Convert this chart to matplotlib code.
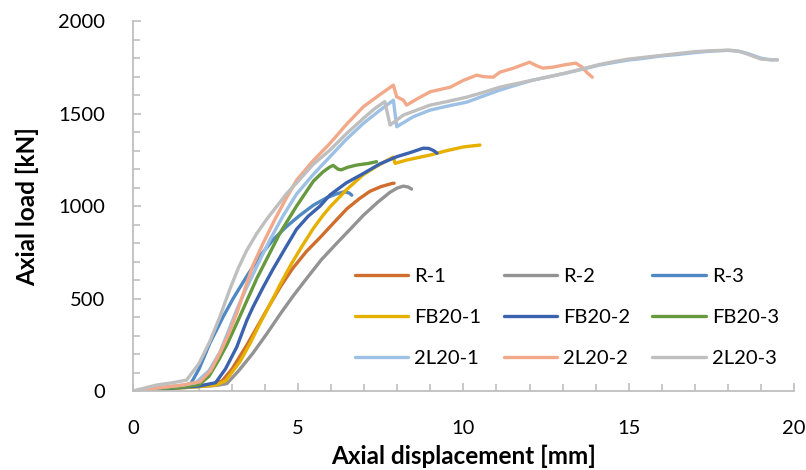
import numpy as np
import matplotlib
matplotlib.use("Agg")
import matplotlib.pyplot as plt
from matplotlib.ticker import MultipleLocator

plt.rcParams['font.family'] = ['Lato', 'DejaVu Sans']

# displacement [mm] / load [kN]
r1_x = [0, 0.5, 1.0, 1.5, 2.0, 2.4, 2.7, 3.0, 3.45, 3.8, 4.15, 4.5, 4.84, 5.25, 5.66, 6.05, 6.47,
        6.85, 7.17, 7.5, 7.83, 7.9]
r1_y = [0, 8, 15, 22, 28, 35, 55, 120, 250, 360, 470, 575, 665, 755, 830, 905, 985,
        1040, 1080, 1105, 1122, 1124]

r2_x = [0, 0.5, 1.0, 1.5, 2.0, 2.5, 2.84, 3.2, 3.63, 4.05, 4.45, 4.85, 5.26, 5.7, 6.17, 6.6, 6.97,
        7.4, 7.78, 8.0, 8.18, 8.33, 8.43]
r2_y = [0, 6, 12, 18, 24, 30, 40, 110, 205, 310, 415, 515, 610, 710, 800, 880, 950,
        1020, 1075, 1098, 1108, 1103, 1092]

r3_x = [0, 0.5, 1.0, 1.5, 1.75, 2.0, 2.33, 2.73, 3.03, 3.44, 3.84, 4.25, 4.65, 5.05, 5.46, 5.86,
        6.16, 6.41, 6.55, 6.62]
r3_y = [0, 10, 18, 27, 40, 120, 260, 402, 500, 620, 730, 820, 890, 950, 1005, 1045,
        1066, 1078, 1070, 1059]

fb1_x = [0, 0.5, 1.0, 1.5, 2.0, 2.5, 2.8, 3.24, 3.55, 3.84, 4.15, 4.45, 4.8, 5.14, 5.46, 5.75,
         5.96, 6.47, 6.97, 7.37, 7.7, 7.88, 7.93, 8.28, 8.99, 9.5, 10.0, 10.5]
fb1_y = [0, 6, 12, 18, 24, 32, 55, 160, 260, 365, 470, 575, 690, 790, 880, 950,
         995, 1090, 1170, 1215, 1248, 1265, 1231, 1249, 1276, 1300, 1320, 1330]

fb2_x = [0, 0.5, 1.0, 1.5, 2.0, 2.5, 2.8, 3.14, 3.44, 3.63, 3.95, 4.24, 4.6, 4.95, 5.3, 5.66,
         5.96, 6.45, 6.97, 7.47, 7.98, 8.4, 8.78, 8.95, 9.1, 9.2]
fb2_y = [0, 7, 13, 20, 27, 45, 120, 238, 380, 454, 565, 660, 770, 875, 945, 1000,
         1060, 1125, 1176, 1228, 1267, 1290, 1313, 1312, 1300, 1286]

fb3_x = [0, 0.5, 1.0, 1.5, 2.0, 2.3, 2.6, 2.84, 3.15, 3.45, 3.75, 4.05, 4.45, 4.95, 5.46, 5.75,
         5.96, 6.06, 6.2, 6.3, 6.5, 6.77, 7.1, 7.37]
fb3_y = [0, 8, 15, 22, 35, 80, 170, 250, 370, 490, 610, 715, 855, 1000, 1135, 1185,
         1212, 1220, 1200, 1196, 1210, 1222, 1230, 1240]

l1_x = [0, 0.5, 1.0, 1.5, 1.9, 2.3, 2.63, 2.9, 3.14, 3.4, 3.63, 3.9, 4.15, 4.55, 4.95, 5.45, 5.96,
        6.45, 6.97, 7.45, 7.88, 7.98, 8.48, 8.99, 9.5, 10.1, 10.6, 11.1, 11.6, 12.1, 12.6, 13.1,
        13.6, 14.1, 14.6, 15.0, 15.5, 16.0, 16.5, 17.0, 17.5, 18.0, 18.3, 18.6, 19.0, 19.3, 19.5]
l1_y = [0, 12, 22, 32, 45, 110, 210, 330, 440, 545, 630, 730, 820, 950, 1065, 1170, 1267,
        1360, 1447, 1515, 1573, 1429, 1483, 1519, 1540, 1562, 1595, 1627, 1655, 1681, 1700, 1719,
        1740, 1762, 1778, 1790, 1800, 1812, 1820, 1830, 1838, 1842, 1838, 1825, 1800, 1790, 1792]

l2_x = [0, 0.5, 1.0, 1.5, 2.03, 2.35, 2.63, 2.9, 3.14, 3.4, 3.63, 3.94, 4.3, 4.6, 4.95, 5.45,
        5.96, 6.45, 6.97, 7.45, 7.88, 7.98, 8.18, 8.28, 8.6, 8.99, 9.6, 10.0, 10.4, 10.6, 10.9,
        11.1, 11.5, 12.0, 12.2, 12.4, 12.7, 13.1, 13.4, 13.6, 13.75, 13.9]
l2_y = [0, 12, 22, 32, 50, 110, 205, 310, 421, 560, 680, 800, 930, 1030, 1140, 1245,
        1339, 1440, 1537, 1600, 1654, 1591, 1573, 1546, 1580, 1618, 1643, 1680, 1708, 1700, 1697,
        1724, 1745, 1778, 1760, 1746, 1751, 1765, 1773, 1750, 1720, 1697]

l3_x = [0, 0.7, 1.2, 1.62, 2.0, 2.33, 2.63, 2.93, 3.2, 3.44, 3.74, 4.05, 4.4, 4.65, 4.95, 5.45,
        5.96, 6.45, 6.97, 7.3, 7.62, 7.78, 8.18, 8.99, 9.5, 10.1, 10.6, 11.1, 11.6, 12.1, 12.6,
        13.1, 13.6, 14.1, 14.6, 15.0, 15.5, 16.0, 16.5, 17.0, 17.5, 18.06, 18.4, 18.7, 19.0, 19.5]
l3_y = [0, 32, 45, 59, 150, 270, 402, 550, 670, 760, 850, 930, 1010, 1068, 1125, 1225,
        1303, 1390, 1474, 1525, 1565, 1438, 1492, 1546, 1565, 1589, 1615, 1643, 1662, 1681, 1700,
        1720, 1742, 1765, 1783, 1795, 1805, 1815, 1825, 1835, 1840, 1843, 1835, 1815, 1795, 1790]

labels = ['R-1', 'R-2', 'R-3', 'FB20-1', 'FB20-2', 'FB20-3', '2L20-1', '2L20-2', '2L20-3']
xs = [r1_x, r2_x, r3_x, fb1_x, fb2_x, fb3_x, l1_x, l2_x, l3_x]
ys = [r1_y, r2_y, r3_y, fb1_y, fb2_y, fb3_y, l1_y, l2_y, l3_y]
colors = ['#D06E2E', '#939393', '#4F88C2', '#E6B000', '#3B62AE', '#67993F',
          '#9DC0E5', '#F2A98A', '#BFBFBF']

fig = plt.figure(figsize=(8.06, 4.70), dpi=100)
ax = fig.add_axes([0.165, 0.168, 0.820, 0.787])

handles = []
for x, y, c, lab in zip(xs, ys, colors, labels):
    h, = ax.plot(x, y, color=c, lw=2.4, label=lab, solid_capstyle='round',
                 solid_joinstyle='round')
    handles.append(h)

ax.set_xlim(0, 20)
ax.set_ylim(0, 2000)
ax.xaxis.set_major_locator(MultipleLocator(5))
ax.xaxis.set_minor_locator(MultipleLocator(1))
ax.yaxis.set_major_locator(MultipleLocator(500))
ax.yaxis.set_minor_locator(MultipleLocator(100))

for s in ['top', 'right']:
    ax.spines[s].set_visible(False)
for s in ['left', 'bottom']:
    ax.spines[s].set_color('#BFBFBF')
    ax.spines[s].set_linewidth(1.3)

ax.tick_params(which='both', direction='in', color='#BFBFBF', width=1.2, labelsize=14.5,
               labelcolor='black')
ax.tick_params(which='major', length=6)
ax.tick_params(which='minor', length=5)
ax.tick_params(axis='x', pad=21)
ax.tick_params(axis='y', pad=20)

ax.set_xlabel('Axial displacement [mm]', fontsize=17.5, fontweight='bold', labelpad=5)
ax.set_ylabel('Axial load [kN]', fontsize=17.5, fontweight='bold', labelpad=14)

# legend fills row by row in the reference
order = [0, 3, 6, 1, 4, 7, 2, 5, 8]
ax.legend([handles[i] for i in order], [labels[i] for i in order],
          loc='upper left', bbox_to_anchor=(0.336, 0.332), ncol=3, frameon=False,
          fontsize=14.5, handlelength=2.65, handletextpad=0.3, columnspacing=1.1,
          labelspacing=1.17, borderpad=0, borderaxespad=0)

fig.savefig('out.png', dpi=100)
